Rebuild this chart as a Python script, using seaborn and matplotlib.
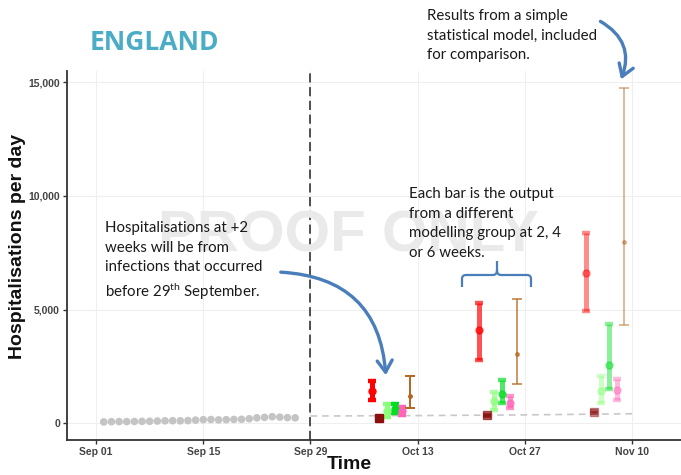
import pandas as pd
import matplotlib
matplotlib.use("Agg")
import matplotlib.pyplot as plt
import matplotlib.dates as mdates
from matplotlib.patches import FancyArrowPatch, PathPatch
from matplotlib.path import Path
import seaborn as sns

sns.set_theme(style="white")
plt.rcParams['font.family'] = ['Liberation Sans', 'DejaVu Sans']

# observed admissions (grey dots)
obs_dates = pd.date_range("2020-09-02", "2020-09-27")
obs_values = [60, 70, 75, 75, 80, 85, 90, 100, 110, 115, 110, 120, 140,
              160, 165, 150, 160, 170, 175, 200, 240, 260, 290, 270, 250, 240]

# simple projection (dashed grey)
proj_dates = pd.to_datetime(["2020-09-29", "2020-10-13", "2020-10-27", "2020-11-10"])
proj_values = [320, 340, 370, 420]

# modelling groups at +2, +4, +6 weeks
models = ["A", "B", "C", "D", "E", "Stat"]
model_colors = ["#FF0000", "#8B0F0F", "#8CFF7A", "#00DD22", "#FF66B8", "#B5651D"]
horizon_start = pd.to_datetime(["2020-10-07", "2020-10-21", "2020-11-04"])
horizon_alpha = [1.0, 0.68, 0.45]
low = [[1020, 230, 290, 470, 350, 690],
       [2800, 320, 580, 875, 655, 1735],
       [4940, 470, 905, 1515, 1020, 4330]]
mid = [[1400, 250, 560, 650, 520, 1190],
       [4110, 350, 975, 1270, 905, 3060],
       [6590, 500, 1415, 2550, 1460, 7950]]
high = [[1850, 270, 830, 870, 730, 2070],
        [5280, 380, 1370, 1900, 1200, 5450],
        [8370, 530, 2100, 4360, 1955, 14730]]

W, H = 681, 475
fig = plt.figure(figsize=(W / 100, H / 100), dpi=100)
ax = fig.add_axes([67 / W, 1 - 440 / H, 1 - 67 / W, (440 - 71) / H])


def px(x, y):
    return (x / W, 1 - y / H)


# watermark
fig.text(*px(348, 237), "PROOF ONLY", fontsize=42, color="#EAEAEA",
         fontweight="bold", ha="center", va="center", zorder=0.5,
         family=['Liberation Sans'])

ax.grid(True, color="#EFEFEF", lw=0.8)
ax.set_axisbelow(True)

sns.scatterplot(x=obs_dates, y=obs_values, ax=ax, color="#C4C4C4", s=30,
                edgecolor="none", zorder=3)
sns.lineplot(x=proj_dates, y=proj_values, ax=ax, color="#C8C8C8", lw=1.2,
             linestyle=(0, (4, 3)), zorder=2)
ax.axvline(pd.Timestamp("2020-09-29"), color="#222222", lw=1.1,
           linestyle=(0, (6, 3)), zorder=2)

rows = []
for g in range(3):
    for i, m in enumerate(models):
        rows.append(dict(date=horizon_start[g] + pd.Timedelta(days=i), model=m,
                         low=low[g][i], mid=mid[g][i], high=high[g][i],
                         color=model_colors[i], alpha=horizon_alpha[g]))
bars = pd.DataFrame(rows)

for _, r in bars.iterrows():
    yerr = [[r["mid"] - r["low"]], [r["high"] - r["mid"]]]
    if r["model"] == "Stat":
        ax.errorbar(r["date"], r["mid"], yerr=yerr, fmt="o", ms=2.5,
                    color=r["color"], elinewidth=1.4, capsize=3.5, capthick=1.4,
                    alpha=r["alpha"], zorder=4)
    elif r["model"] == "B":
        ax.errorbar(r["date"], r["mid"], yerr=yerr, fmt="s", ms=5.5,
                    color=r["color"], elinewidth=3.6, capsize=2.8, capthick=3,
                    alpha=r["alpha"], zorder=4)
    else:
        ax.errorbar(r["date"], r["mid"], yerr=yerr, fmt="o", ms=5,
                    color=r["color"], elinewidth=3.6, capsize=3, capthick=3.2,
                    alpha=r["alpha"], zorder=4)

ax.set_xlim(pd.Timestamp("2020-09-01") - pd.Timedelta(days=3.8),
            pd.Timestamp("2020-09-01") + pd.Timedelta(days=76.4))
ax.set_ylim(-734, 15490)
xt = pd.to_datetime(["2020-09-01", "2020-09-15", "2020-09-29",
                     "2020-10-13", "2020-10-27", "2020-11-10"])
ax.set_xticks(xt)
ax.xaxis.set_major_formatter(mdates.DateFormatter("%b %d"))
ax.set_yticks([0, 5000, 10000, 15000])
ax.set_yticklabels(["0", "5,000", "10,000", "15,000"])
ax.tick_params(axis="both", which="major", length=3, width=1, color="#333333",
               labelsize=7.5, labelcolor="#444444", pad=2, direction="out",
               bottom=True, left=True)
for lab in ax.get_xticklabels() + ax.get_yticklabels():
    lab.set_fontweight("bold")

for s in ["top", "right"]:
    ax.spines[s].set_visible(False)
for s in ["left", "bottom"]:
    ax.spines[s].set_color("#333333")
    ax.spines[s].set_linewidth(1.3)

ax.set_xlabel("Time", fontsize=14, fontweight="bold", color="#111111")
ax.set_ylabel("Hospitalisations per day", fontsize=14, fontweight="bold",
              color="#111111")
ax.xaxis.set_label_coords((349 - 67) / 614, -(456 - 440) / 369)
ax.yaxis.set_label_coords(-(67 - 26) / 614, (440 - 246) / 369)

# title and annotations
fig.text(*px(90, 42), "ENGLAND", fontsize=19, fontweight="bold", color="#4BACC6",
         va="center", ha="left", family=["Open Sans", "DejaVu Sans"])

afont = dict(fontsize=10.8, color="#1A1A1A", va="top", ha="left",
             linespacing=1.5, family=["Lato", "DejaVu Sans"])
fig.text(*px(427, 9), "Results from a simple\nstatistical model, included\nfor comparison.",
         **afont)
fig.text(*px(409, 187), "Each bar is the output\nfrom a different\nmodelling group at 2, 4\nor 6 weeks.",
         **afont)
fig.text(*px(105, 221),
         "Hospitalisations at +2\nweeks will be from\ninfections that occurred\nbefore 29$\\mathregular{^{th}}$ September.",
         **afont)

blue = "#4A7EBB"
for a, b, rad in [((278, 272), (386, 378), -0.45), ((598, 20), (620, 82), -0.45)]:
    arr = FancyArrowPatch(px(*a), px(*b), transform=fig.transFigure,
                          connectionstyle=f"arc3,rad={rad}",
                          arrowstyle="->,head_length=0.7,head_width=0.45",
                          color=blue, lw=2.4, mutation_scale=12)
    fig.add_artist(arr)

brace_pts = [(462, 287), (462, 279), (462, 275), (466, 275), (493, 275),
             (497, 275), (497, 270), (497, 261),
             (497, 270), (497, 275), (501, 275), (527, 275),
             (531, 275), (531, 279), (531, 287)]
codes = [Path.MOVETO, Path.LINETO, Path.CURVE3, Path.CURVE3, Path.LINETO,
         Path.CURVE3, Path.CURVE3, Path.LINETO,
         Path.MOVETO, Path.CURVE3, Path.CURVE3, Path.LINETO,
         Path.CURVE3, Path.CURVE3, Path.LINETO]
brace = Path([px(*p) for p in brace_pts], codes)
fig.add_artist(PathPatch(brace, transform=fig.transFigure, fill=False,
                         edgecolor=blue, lw=1.6))

fig.savefig("out.png", dpi=100)
